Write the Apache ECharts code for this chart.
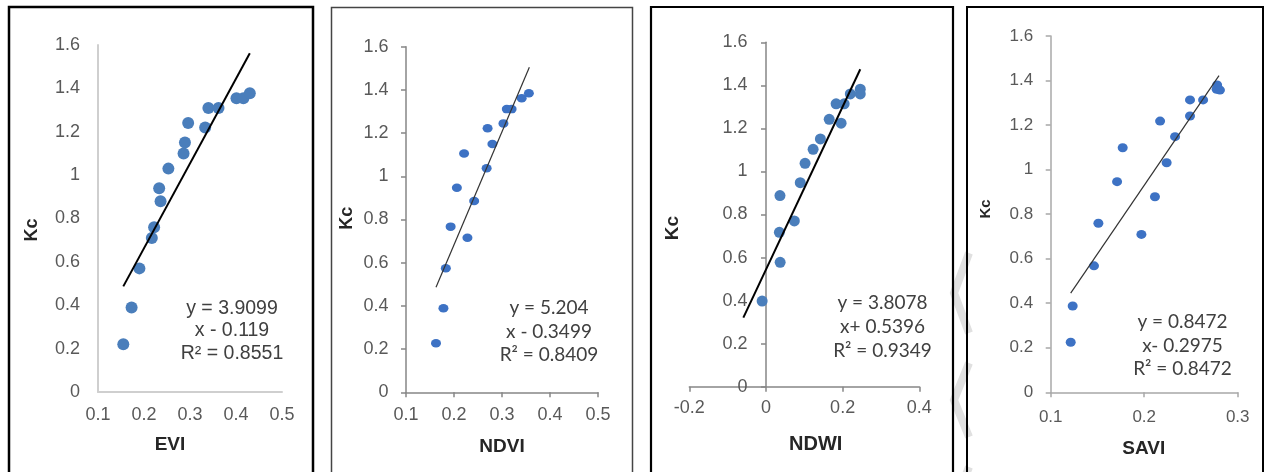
<!DOCTYPE html>
<html>
<head>
<meta charset="utf-8">
<script src="https://cdn.jsdelivr.net/npm/echarts@6/dist/echarts.min.js"></script>
<style>
html,body{margin:0;padding:0;background:#fff;}
#c{width:1268px;height:472px;}
</style>
</head>
<body>
<div id="c"></div>
<script>
// ---- Data ----
const eviX = [0.155, 0.173, 0.190, 0.217, 0.222, 0.236, 0.233, 0.253, 0.286, 0.289, 0.296, 0.333, 0.340, 0.362, 0.401, 0.416, 0.430];
const eviKc = [0.22, 0.39, 0.57, 0.71, 0.76, 0.88, 0.94, 1.03, 1.10, 1.15, 1.24, 1.22, 1.31, 1.31, 1.355, 1.355, 1.377];
const eviTrendX = [0.155, 0.430];
const eviTrendY = [0.487, 1.562];

const ndviX = [0.1625, 0.178, 0.183, 0.193, 0.228, 0.206, 0.242, 0.221, 0.268, 0.280, 0.270, 0.303, 0.310, 0.320, 0.341, 0.356];
const ndviKc = [0.227, 0.389, 0.574, 0.767, 0.716, 0.947, 0.886, 1.106, 1.037, 1.149, 1.222, 1.245, 1.311, 1.311, 1.361, 1.384];
const ndviTrendX = [0.1625, 0.357];
const ndviTrendY = [0.486, 1.505];

const ndwiX = [-0.010, 0.037, 0.035, 0.0365, 0.074, 0.0895, 0.102, 0.123, 0.142, 0.165, 0.196, 0.183, 0.204, 0.220, 0.246, 0.246];
const ndwiKc = [0.398, 0.578, 0.717, 0.888, 0.770, 0.948, 1.038, 1.103, 1.151, 1.242, 1.224, 1.314, 1.314, 1.360, 1.382, 1.360];
const ndwiTrendX = [-0.059, 0.246];
const ndwiTrendY = [0.321, 1.475];

const saviX = [0.1214, 0.1235, 0.1463, 0.151, 0.171, 0.177, 0.197, 0.2115, 0.217, 0.224, 0.233, 0.249, 0.249, 0.263, 0.278, 0.2775, 0.281];
const saviKc = [0.2245, 0.3875, 0.568, 0.759, 0.946, 1.098, 0.709, 0.878, 1.218, 1.031, 1.148, 1.241, 1.313, 1.313, 1.380, 1.361, 1.357];
const saviTrendX = [0.1214, 0.280];
const saviTrendY = [0.445, 1.422];

const xTitles = ['EVI', 'NDVI', 'NDWI', 'SAVI'];
const yTitle = 'Kc';
const eqTexts = [
  ['y = 3.9099', 'x - 0.119', 'R² = 0.8551'],
  ['y = 5.204', 'x - 0.3499', 'R² = 0.8409'],
  ['y = 3.8078', 'x+ 0.5396', 'R² = 0.9349'],
  ['y = 0.8472', 'x- 0.2975', 'R² = 0.8472']
];
const yMin = 0, yMax = 1.6, yStep = 0.2;
const xRanges = [[0.1, 0.5, 0.1], [0.1, 0.5, 0.1], [-0.2, 0.4, 0.2], [0.1, 0.3, 0.1]];

// ---- Build ----
const pairs = (xs, ys) => xs.map((x, i) => [x, ys[i]]);
const ARIAL = '"Liberation Sans", Arial, sans-serif';
const CAL = 'Lato, "Open Sans", sans-serif';

const grids = [
  {left: 98, top: 45, width: 184, height: 347},
  {left: 406, top: 46.7, width: 192, height: 345.6},
  {left: 689.3, top: 42.3, width: 230, height: 344.4},
  {left: 1050.7, top: 36, width: 187, height: 356.3}
].map(g => Object.assign({containLabel: false, outerBoundsMode: 'none'}, g));

const axisColors = ['#cfcfcf', '#868686', '#868686', '#a8a8a8'];
const tickShow = [false, true, true, true];
const xMargins = [14, 14, 12, 17];
const yMargins = [18, 17.5, 18.5, 17.5];
const labelSizes = [18, 18, 18, 17];
// NDWI y axis sits at x = 0 (grid width 230 spans 0.6 units; 0 is 0.2 units from the left)
const yOffsets = [0, 0, -230 * (0.2 / 0.6), 0];

const xAxes = xRanges.map((r, i) => ({
  type: 'value', gridIndex: i, min: r[0], max: r[1], interval: r[2],
  splitLine: {show: false},
  axisLine: {show: true, onZero: false, lineStyle: {color: axisColors[i], width: i === 0 ? 2 : 1.5}},
  axisTick: {show: tickShow[i], length: 5, lineStyle: {color: axisColors[i], width: 1.5}},
  axisLabel: {color: '#595959', fontFamily: ARIAL, fontSize: labelSizes[i], margin: xMargins[i],
    formatter: v => String(Math.round(v * 10) / 10)}
}));
const yAxes = xRanges.map((r, i) => ({
  type: 'value', gridIndex: i, min: yMin, max: yMax, interval: yStep,
  offset: yOffsets[i],
  splitLine: {show: false},
  axisLine: {show: true, onZero: false, lineStyle: {color: axisColors[i], width: i === 0 ? 2 : 1.5}},
  axisTick: {show: tickShow[i], length: 5, lineStyle: {color: axisColors[i], width: 1.5}},
  axisLabel: {color: '#595959', fontFamily: ARIAL, fontSize: labelSizes[i], margin: yMargins[i],
    formatter: v => String(Math.round(v * 10) / 10)}
}));

const scatterData = [pairs(eviX, eviKc), pairs(ndviX, ndviKc), pairs(ndwiX, ndwiKc), pairs(saviX, saviKc)];
const trendData = [pairs(eviTrendX, eviTrendY), pairs(ndviTrendX, ndviTrendY), pairs(ndwiTrendX, ndwiTrendY), pairs(saviTrendX, saviTrendY)];
const dotColors = ['#4a7ebb', '#3d72c4', '#4a7ebb', '#3d72c4'];
const dotSizes = [12, [10, 8.5], 11, [10, 9]];
const trendStyles = [
  {color: '#000', width: 2},
  {color: '#333', width: 1.2},
  {color: '#000', width: 2},
  {color: '#333', width: 1.2}
];

const series = [];
scatterData.forEach((d, i) => {
  series.push({type: 'scatter', xAxisIndex: i, yAxisIndex: i, data: d, symbolSize: dotSizes[i],
    itemStyle: {color: dotColors[i], opacity: 1}, z: 2, silent: true});
});
trendData.forEach((d, i) => {
  series.push({type: 'line', xAxisIndex: i, yAxisIndex: i, data: d, symbol: 'none', showSymbol: false,
    lineStyle: trendStyles[i], z: 3, silent: true, animation: false});
});

// ---- Decorations: panel frames, titles, equations ----
const graphic = [];
// faint watermark chevrons in the gap between panels 3 and 4
[[253, 293, 333], [363, 400, 437], [467, 505, 543]].forEach(c => {
  graphic.push({type: 'polyline', shape: {points: [[969, c[0]], [954, c[1]], [969, c[2]]]},
    style: {stroke: '#e0e0e0', lineWidth: 8, fill: null}, z: 0, silent: true});
});
const frames = [
  {x: 9, y: 7, w: 304, stroke: '#000', lw: 2.5},
  {x: 331.5, y: 7.5, w: 301, stroke: '#444', lw: 1.5},
  {x: 651, y: 7, w: 302, stroke: '#000', lw: 2.2},
  {x: 967, y: 7, w: 296, stroke: '#000', lw: 2}
];
frames.forEach(f => {
  graphic.push({type: 'rect', shape: {x: f.x, y: f.y, width: f.w, height: 500},
    style: {stroke: f.stroke, lineWidth: f.lw, fill: 'rgba(0,0,0,0)'}, z: 1, silent: true});
});
const xTitlePos = [[170, 445], [502, 446.7], [815.7, 444.3], [1143.7, 448.3]];
const xTitleSize = [19, 19, 20, 19];
xTitles.forEach((t, i) => {
  graphic.push({type: 'text', x: xTitlePos[i][0], y: xTitlePos[i][1],
    style: {text: t, font: 'bold ' + xTitleSize[i] + 'px ' + ARIAL, fill: '#262626', textAlign: 'center', textVerticalAlign: 'middle'}, z: 5});
});
const yTitlePos = [[32, 230], [347.5, 218.3], [672.5, 228], [985.8, 209]];
const yTitleSize = [18, 18, 19, 15];
yTitlePos.forEach((p, i) => {
  graphic.push({type: 'text', x: p[0], y: p[1], rotation: Math.PI / 2,
    style: {text: yTitle, font: 'bold ' + yTitleSize[i] + 'px ' + ARIAL, fill: '#262626', textAlign: 'center', textVerticalAlign: 'middle'}, z: 5});
});
const eqPos = [[232, 308.3, 22.5], [549, 308.3, 23.5], [882.5, 303.3, 23.8], [1182.5, 321.7, 23.8]];
const eqFonts = ['19.5px ' + ARIAL, '19px ' + CAL, '19px ' + CAL, '19px ' + CAL];
eqTexts.forEach((lines, i) => {
  lines.forEach((ln, j) => {
    graphic.push({type: 'text', x: eqPos[i][0], y: eqPos[i][1] + j * eqPos[i][2],
      style: {text: ln, font: eqFonts[i], fill: '#404040', textAlign: 'center', textVerticalAlign: 'middle'}, z: 5});
  });
});

const chart = echarts.init(document.getElementById('c'), null, {renderer: 'canvas', width: 1268, height: 472});
chart.setOption({
  backgroundColor: '#fff',
  animation: false,
  grid: grids,
  xAxis: xAxes,
  yAxis: yAxes,
  series: series,
  graphic: graphic
});
</script>
</body>
</html>
